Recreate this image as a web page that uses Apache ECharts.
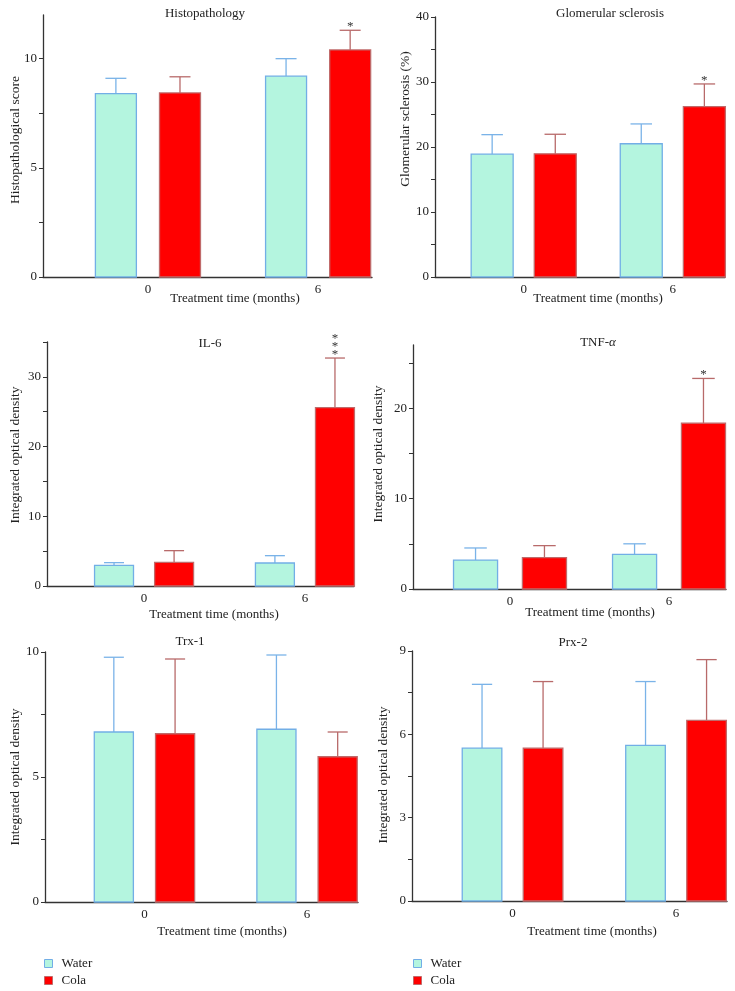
<!DOCTYPE html>
<html>
<head>
<meta charset="utf-8">
<script src="https://cdn.jsdelivr.net/npm/echarts@6/dist/echarts.min.js"></script>
<style>html,body{margin:0;padding:0;background:#fff}#c{width:735px;height:991px}</style>
</head>
<body>
<div id="c"></div>
<script>
// ---- data ----
const panelTitles = ['Histopathology', 'Glomerular sclerosis', 'IL-6', 'TNF-{i|α}', 'Trx-1', 'Prx-2'];
const yAxisNames = ['Histopathological score', 'Glomerular sclerosis (%)', 'Integrated optical density',
  'Integrated optical density', 'Integrated optical density', 'Integrated optical density'];
const xAxisName = 'Treatment time (months)';
const xCategories = [0, 6];
const seriesNames = ['Water', 'Cola'];
const waterMeans = [[8.4, 9.2], [18.9, 20.5], [2.97, 3.3], [3.2, 3.84], [6.8, 6.91], [5.5, 5.6]];
const waterErrTops = [[9.1, 10.0], [21.9, 23.55], [3.35, 4.35], [4.54, 5.0], [9.79, 9.88], [7.8, 7.9]];
const colaMeans = [[8.43, 10.4], [18.95, 26.2], [3.4, 25.6], [3.47, 18.35], [6.73, 5.81], [5.5, 6.5]];
const colaErrTops = [[9.17, 11.3], [21.96, 29.7], [5.07, 32.7], [4.8, 23.3], [9.72, 6.8], [7.9, 8.69]];
const colaStars = [[0, 1], [0, 1], [0, 3], [0, 1], [0, 0], [0, 0]];
const waterStars = [[0, 0], [0, 0], [0, 0], [0, 0], [0, 0], [0, 0]];
const yMax = [12, 40, 35, 27, 10, 9];
const yTickValues = [[0, 2.5, 5, 7.5, 10], [0, 5, 10, 15, 20, 25, 30, 35, 40], [0, 5, 10, 15, 20, 25, 30, 35],
  [0, 5, 10, 15, 20, 25], [0, 2.5, 5, 7.5, 10], [0, 1.5, 3, 4.5, 6, 7.5, 9]];
const yLabelValues = [[0, 5, 10], [0, 10, 20, 30, 40], [0, 10, 20, 30], [0, 10, 20], [0, 5, 10], [0, 3, 6, 9]];

// ---- layout (positions & styles) ----
const FONT = 'Liberation Serif';
const grids = [
  {left: 43, top: 15, width: 329, height: 262},
  {left: 435, top: 17, width: 290, height: 260},
  {left: 47, top: 342, width: 307, height: 244},
  {left: 413, top: 345, width: 313, height: 244},
  {left: 45, top: 652, width: 313, height: 250},
  {left: 412, top: 651, width: 315, height: 250}
];
const xRange = [[-3.7, 7.9], [-3.57, 8.1], [-3.62, 7.83], [-3.66, 8.15], [-3.67, 7.88], [-3.69, 7.87]];
const barGeom = [[0.74, 1.13], [0.865, 1.27], [0.745, 1.12], [0.85, 1.3], [0.74, 1.13], [0.745, 1.12]];
const titlePos = [[205, 14], [610, 14], [210, 344], [598, 343], [190, 642], [573, 643]];
const yNamePos = [[15, 140], [405, 119], [15, 455], [378, 454], [15, 777], [383, 775]];
const xNamePos = [[235, 299], [598, 299], [214, 615], [590, 613], [222, 932], [592, 932]];

const styles = {
  Water: {fill: '#b4f5df', stroke: '#72aee6', err: '#7ab3e8'},
  Cola: {fill: '#ff0000', stroke: '#c06a6a', err: '#b86a6a'}
};

function makeRender(panel, side) {
  const [hw, off] = barGeom[panel];
  const dx = side === 'Water' ? -off : off;
  const st = styles[side];
  return function (params, api) {
    const x = api.value(0), m = api.value(1), up = api.value(2), ns = api.value(3);
    const a = api.coord([x + dx - hw, 0]);
    const b = api.coord([x + dx + hw, m]);
    const c = api.coord([x + dx, up]);
    const capL = api.coord([x + dx - hw / 2, up]);
    const capR = api.coord([x + dx + hw / 2, up]);
    const children = [
      {type: 'line', shape: {x1: c[0], y1: b[1], x2: c[0], y2: c[1]}, style: {stroke: st.err, lineWidth: 1.3}},
      {type: 'line', shape: {x1: capL[0], y1: c[1], x2: capR[0], y2: c[1]}, style: {stroke: st.err, lineWidth: 1.3}},
      {type: 'rect', shape: {x: a[0] + 0.5, y: b[1], width: b[0] - a[0] - 1, height: a[1] - b[1]},
        style: {fill: st.fill, stroke: st.stroke, lineWidth: 1.3}}
    ];
    for (let k = 0; k < ns; k++) {
      children.push({type: 'text', style: {text: '*', x: c[0], y: c[1] + 3 - k * 8, align: 'center',
        verticalAlign: 'bottom', fontFamily: FONT, fontSize: 13, fill: '#333'}});
    }
    return {type: 'group', children: children};
  };
}

const xAxes = [], yAxes = [], series = [], graphics = [];
for (let i = 0; i < 6; i++) {
  xAxes.push({
    type: 'value', gridIndex: i, min: xRange[i][0], max: xRange[i][1],
    axisLine: {show: true, onZero: false, lineStyle: {color: '#333', width: 1.3}},
    axisTick: {show: false},
    splitLine: {show: false},
    axisLabel: {customValues: xCategories, color: '#222', fontFamily: FONT, fontSize: 13, margin: 6}
  });
  yAxes.push({
    type: 'value', gridIndex: i, min: 0, max: yMax[i],
    axisLine: {show: true, onZero: false, lineStyle: {color: '#333', width: 1.3}},
    axisTick: {show: true, customValues: yTickValues[i], length: 4, lineStyle: {color: '#333'}},
    splitLine: {show: false},
    axisLabel: {customValues: yLabelValues[i], color: '#222', fontFamily: FONT, fontSize: 13, margin: 6}
  });
  const wData = xCategories.map((c, j) => [c, waterMeans[i][j], waterErrTops[i][j], waterStars[i][j]]);
  const cData = xCategories.map((c, j) => [c, colaMeans[i][j], colaErrTops[i][j], colaStars[i][j]]);
  series.push({type: 'custom', name: 'Water', xAxisIndex: i, yAxisIndex: i, data: wData,
    renderItem: makeRender(i, 'Water'), itemStyle: {color: styles.Water.fill}, encode: {x: 0, y: [1, 2]}, silent: true});
  series.push({type: 'custom', name: 'Cola', xAxisIndex: i, yAxisIndex: i, data: cData,
    renderItem: makeRender(i, 'Cola'), itemStyle: {color: styles.Cola.fill}, encode: {x: 0, y: [1, 2]}, silent: true});
  graphics.push({type: 'text', x: titlePos[i][0], y: titlePos[i][1],
    style: {text: panelTitles[i], align: 'center', verticalAlign: 'middle', fontFamily: FONT, fontSize: 13, fill: '#222',
      rich: {i: {fontStyle: 'italic', fontFamily: FONT, fontSize: 13, fill: '#222'}}}});
  graphics.push({type: 'text', x: yNamePos[i][0], y: yNamePos[i][1], rotation: Math.PI / 2,
    style: {text: yAxisNames[i], align: 'center', verticalAlign: 'middle', fontFamily: FONT, fontSize: 13.5, fill: '#222'}});
  graphics.push({type: 'text', x: xNamePos[i][0], y: xNamePos[i][1],
    style: {text: xAxisName, align: 'center', verticalAlign: 'middle', fontFamily: FONT, fontSize: 13, fill: '#222'}});
}

const legendData = seriesNames.map(n => ({name: n, itemStyle: {color: styles[n].fill, borderColor: styles[n].stroke, borderWidth: 1}}));
const legendCommon = {orient: 'vertical', icon: 'rect', itemWidth: 8, itemHeight: 8, itemGap: 4, padding: 0,
  height: 40, textStyle: {fontFamily: FONT, fontSize: 13, color: '#222', padding: [0, 0, 0, 4]}, selectedMode: false, data: legendData};

const chart = echarts.init(document.getElementById('c'), null, {renderer: 'canvas'});
chart.setOption({
  animation: false,
  backgroundColor: '#fff',
  grid: grids.map(g => Object.assign({containLabel: false}, g)),
  xAxis: xAxes,
  yAxis: yAxes,
  series: series,
  legend: [Object.assign({left: 44, top: 957}, legendCommon), Object.assign({left: 413, top: 957}, legendCommon)],
  graphic: graphics
});
</script>
</body>
</html>
